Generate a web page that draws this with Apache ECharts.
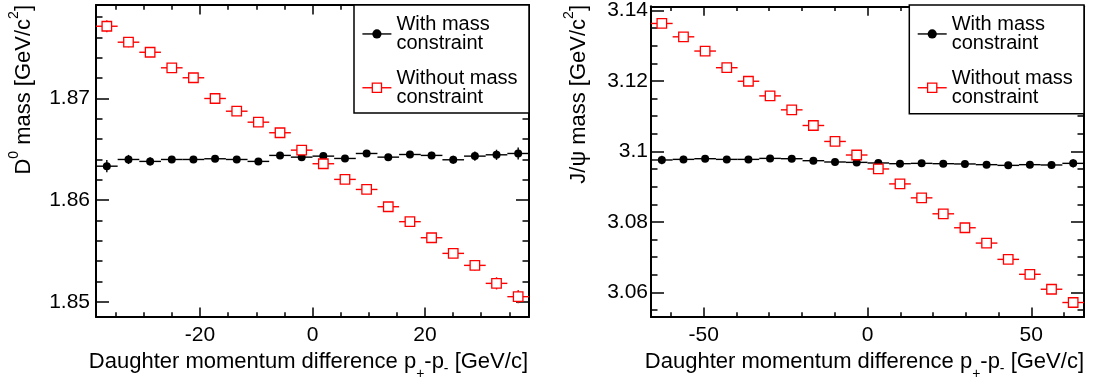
<!DOCTYPE html>
<html><head><meta charset="utf-8">
<script src="https://cdn.jsdelivr.net/npm/echarts@6/dist/echarts.min.js"></script>
<style>html,body{margin:0;padding:0;background:#fff}#c{width:1093px;height:385px}</style>
</head><body><div id="c"></div>
<script>
// ---------- data ----------
const seriesNames = ['With mass constraint', 'Without mass constraint'];

// Left panel: D0 mass vs momentum difference
const xLeft = [-36.575,-32.725,-28.875,-25.025,-21.175,-17.325,-13.475,-9.625,-5.775,-1.925,1.925,5.775,9.625,13.475,17.325,21.175,25.025,28.875,32.725,36.575];
const xHalfLeft = 1.925;
const massLeftWith = [1.86334,1.86400,1.86381,1.86400,1.86400,1.86407,1.86400,1.86381,1.86440,1.86423,1.86433,1.86410,1.86459,1.86423,1.86449,1.86440,1.86397,1.86433,1.86446,1.86459];
const errLeftWith = [0.0006,0.00045,0.0004,0.00035,0.0003,0.0003,0.0003,0.0003,0.0003,0.0003,0.0003,0.0003,0.0003,0.0003,0.0003,0.00035,0.0004,0.00045,0.0005,0.0006];
const massLeftWithout = [1.87711,1.87554,1.87455,1.87302,1.87204,1.87000,1.86875,1.86767,1.86663,1.86492,1.86358,1.86204,1.86105,1.85935,1.85788,1.85630,1.85476,1.85358,1.85181,1.85050];
const errLeftWithout = [0.0006,0.0005,0.00045,0.0004,0.00035,0.0003,0.0003,0.0003,0.0003,0.0003,0.0003,0.0003,0.0003,0.0003,0.00035,0.0004,0.00045,0.0005,0.0006,0.00065];

// Right panel: J/psi mass vs momentum difference
const xRight = [-62.795,-56.185,-49.575,-42.965,-36.355,-29.745,-23.135,-16.525,-9.915,-3.305,3.305,9.915,16.525,23.135,29.745,36.355,42.965,49.575,56.185,62.795];
const xHalfRight = 3.305;
const massRightWith = [3.09757,3.09774,3.09793,3.09774,3.09774,3.09802,3.09793,3.09737,3.09700,3.09689,3.09672,3.09652,3.09661,3.09652,3.09644,3.09624,3.09604,3.09624,3.09615,3.09661];
const errRightWith = [0.0012,0.001,0.0009,0.0008,0.0008,0.0008,0.0008,0.0008,0.0008,0.0008,0.0008,0.0008,0.0008,0.0008,0.0008,0.0008,0.0008,0.0009,0.001,0.0012];
const massRightWithout = [3.13632,3.13253,3.12849,3.12376,3.11992,3.11576,3.11180,3.10736,3.10283,3.09898,3.09502,3.09078,3.08682,3.08229,3.07833,3.07398,3.06936,3.06512,3.06088,3.05711];
const errRightWithout = [0.0012,0.001,0.0009,0.0008,0.0008,0.0008,0.0008,0.0008,0.0008,0.0008,0.0008,0.0008,0.0008,0.0008,0.0008,0.0008,0.0008,0.0009,0.001,0.0012];

// ticks
const leftXMajor = [-20, 0, 20];
const leftXMinor = [-35,-30,-25,-15,-10,-5,5,10,15,25,30,35];
const leftYMajor = [1.85, 1.86, 1.87];
const leftYMinor = [1.852,1.854,1.856,1.858,1.862,1.864,1.866,1.868,1.872,1.874,1.876,1.878];
const rightXMajor = [-50, 0, 50];
const rightXMinor = [-60,-40,-30,-20,-10,10,20,30,40,60];
const rightYMajor = [3.06, 3.08, 3.1, 3.12, 3.14];
const rightYMinor = [3.055,3.065,3.07,3.075,3.085,3.09,3.095,3.105,3.11,3.115,3.125,3.13,3.135];

const leftRange = {xmin:-38.5, xmax:38.5, ymin:1.8485, ymax:1.8792};
const rightRange = {xmin:-66.1, xmax:66.1, ymin:3.053, ymax:3.1412};

// ---------- styling ----------
const FONT = '"Liberation Sans", Arial, Helvetica, sans-serif';
const BLACK = '#000000', RED = '#ff0000';

function axisSet(dim, gridIndex, min, max, major, minor, majLen, minLen, labelMargin) {
  const posA = dim === 'x' ? 'bottom' : 'left';
  const posB = dim === 'x' ? 'top' : 'right';
  const base = {type:'value', gridIndex, min, max, splitLine:{show:false}, scale:true};
  const line = {show:true, onZero:false, lineStyle:{color:BLACK, width:2}};
  const noLine = {show:false, onZero:false};
  const tick = (vals, len) => ({show:true, inside:true, length:len, customValues:vals, lineStyle:{color:BLACK, width:1.5}});
  return [
    Object.assign({}, base, {position:posA, axisLine:line, axisTick:tick(major, majLen),
      axisLabel:{show:true, customValues:major, margin:labelMargin, color:BLACK, fontSize:21, fontFamily:FONT}}),
    Object.assign({}, base, {position:posA, axisLine:noLine, axisTick:tick(minor, minLen), axisLabel:{show:false}}),
    Object.assign({}, base, {position:posB, axisLine:line, axisTick:tick(major, majLen), axisLabel:{show:false}}),
    Object.assign({}, base, {position:posB, axisLine:noLine, axisTick:tick(minor, minLen), axisLabel:{show:false}})
  ];
}

function errRender(color) {
  return function (params, api) {
    const x = api.value(0), y = api.value(1), ex = api.value(2), ey = api.value(3);
    const a = api.coord([x - ex, y]), b = api.coord([x + ex, y]);
    const c = api.coord([x, y - ey]), d = api.coord([x, y + ey]);
    const st = {stroke:color, lineWidth:1.4};
    return {type:'group', children:[
      {type:'line', shape:{x1:a[0], y1:a[1], x2:b[0], y2:b[1]}, style:st},
      {type:'line', shape:{x1:c[0], y1:c[1], x2:d[0], y2:d[1]}, style:st}
    ]};
  };
}

function panelSeries(axisIdx, xs, half, yW, eW, yWo, eWo) {
  return [
    {type:'custom', name:'errW'+axisIdx, xAxisIndex:axisIdx, yAxisIndex:axisIdx, renderItem:errRender(BLACK),
      data: xs.map((x,i)=>[x, yW[i], half, eW[i]]), encode:{x:0, y:1}, z:2, silent:true},
    {type:'custom', name:'errWo'+axisIdx, xAxisIndex:axisIdx, yAxisIndex:axisIdx, renderItem:errRender(RED),
      data: xs.map((x,i)=>[x, yWo[i], half, eWo[i]]), encode:{x:0, y:1}, z:2, silent:true},
    {type:'line', name:seriesNames[0], xAxisIndex:axisIdx, yAxisIndex:axisIdx,
      data: xs.map((x,i)=>[x, yW[i]]), symbol:'circle', symbolSize:8, showAllSymbol:true,
      lineStyle:{width:0, color:BLACK}, itemStyle:{color:BLACK}, z:4, silent:true},
    {type:'line', name:seriesNames[1], xAxisIndex:axisIdx, yAxisIndex:axisIdx,
      data: xs.map((x,i)=>[x, yWo[i]]), symbol:'rect', symbolSize:9.5, showAllSymbol:true,
      lineStyle:{width:0, color:RED}, itemStyle:{color:'#ffffff', borderColor:RED, borderWidth:1.3}, z:5, silent:true}
  ];
}

function legendAt(left) {
  return {
    show:true, orient:'vertical', left:left, top:14.2, padding:0, itemGap:14.3,
    itemWidth:29, itemHeight:11.5, selectedMode:false, z:20,
    data:[{name:seriesNames[0], itemStyle:{borderWidth:0}}, {name:seriesNames[1], itemStyle:{borderWidth:1.3}}],
    formatter: n => n.replace(' constraint', '\nconstraint'),
    textStyle:{fontSize:20, lineHeight:19.5, color:BLACK, fontFamily:FONT},
    lineStyle:{width:1.4}
  };
}

const xTitleRich = {
  a:{fontSize:22, lineHeight:24, verticalAlign:'top', fontFamily:FONT, fill:BLACK, color:BLACK},
  sp:{fontSize:14, lineHeight:24, verticalAlign:'top', padding:[16,0,0,0], fontFamily:FONT, fill:BLACK, color:BLACK},
  sm:{fontSize:14, lineHeight:24, verticalAlign:'top', padding:[11,0,0,0], fontFamily:FONT, fill:BLACK, color:BLACK}
};
const yTitleRich = {
  a:{fontSize:22, lineHeight:24, verticalAlign:'bottom', fontFamily:FONT, fill:BLACK, color:BLACK},
  s:{fontSize:14, lineHeight:41, verticalAlign:'middle', fontFamily:FONT, fill:BLACK, color:BLACK}
};
const xTitleText = '{a|Daughter momentum difference p}{sp|+}{a|-p}{sm|-}{a| [GeV/c]}';

const option = {
  animation:false,
  backgroundColor:'#ffffff',
  grid:[
    {left:96, top:5, width:433, height:312, containLabel:false},
    {left:651, top:5, width:433, height:312, containLabel:false}
  ],
  xAxis: [].concat(
    axisSet('x', 0, leftRange.xmin, leftRange.xmax, leftXMajor, leftXMinor, 9.4, 4.7, 8),
    axisSet('x', 1, rightRange.xmin, rightRange.xmax, rightXMajor, rightXMinor, 9.4, 4.7, 8)
  ),
  yAxis: [].concat(
    axisSet('y', 0, leftRange.ymin, leftRange.ymax, leftYMajor, leftYMinor, 13, 6.5, 6),
    axisSet('y', 1, rightRange.ymin, rightRange.ymax, rightYMajor, rightYMinor, 13, 6.5, 3)
  ),
  legend:[legendAt(361.7), legendAt(917)],
  series: [].concat(
    panelSeries(0, xLeft, xHalfLeft, massLeftWith, errLeftWith, massLeftWithout, errLeftWithout),
    panelSeries(4, xRight, xHalfRight, massRightWith, errRightWith, massRightWithout, errRightWithout)
  ),
  graphic:[
    {type:'rect', z:10, shape:{x:354, y:5, width:175, height:108}, style:{fill:'#ffffff', stroke:BLACK, lineWidth:1.5}},
    {type:'rect', z:10, shape:{x:909.3, y:5, width:174.7, height:108.7}, style:{fill:'#ffffff', stroke:BLACK, lineWidth:1.5}},
    {type:'text', z:10, x:528, y:351, style:{text:xTitleText, rich:xTitleRich, align:'right', verticalAlign:'top', font:'22px '+FONT, fill:BLACK}},
    {type:'text', z:10, x:1084, y:351, style:{text:xTitleText, rich:xTitleRich, align:'right', verticalAlign:'top', font:'22px '+FONT, fill:BLACK}},
    {type:'text', z:10, x:-6, y:5, rotation:Math.PI/2, style:{text:'{a|D}{s|0}{a| mass [GeV/c}{s|2}{a|]}', rich:yTitleRich, align:'right', verticalAlign:'top', font:'22px '+FONT, fill:BLACK}},
    {type:'text', z:10, x:549, y:5, rotation:Math.PI/2, style:{text:'{a|J/ψ mass [GeV/c}{s|2}{a|]}', rich:yTitleRich, align:'right', verticalAlign:'top', font:'22px '+FONT, fill:BLACK}}
  ]
};

const chart = echarts.init(document.getElementById('c'), null, {renderer:'canvas'});
chart.setOption(option);
</script>
</body></html>
